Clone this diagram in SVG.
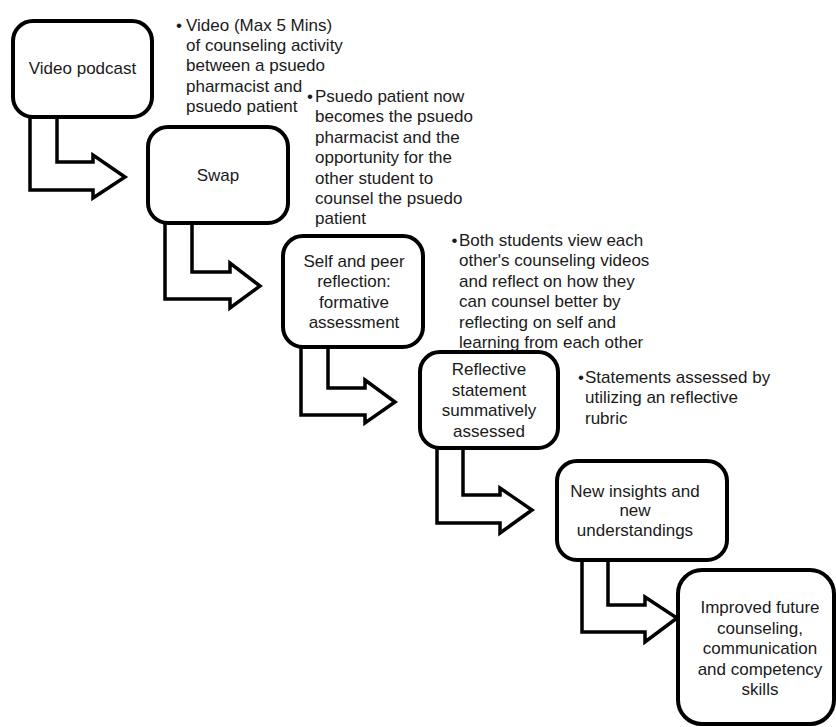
<svg xmlns="http://www.w3.org/2000/svg" width="836" height="727" viewBox="0 0 836 727">
<style>
.box{fill:#fff;stroke:#000;stroke-width:4}
.arr{fill:#fff;stroke:#000;stroke-width:3.5;stroke-linejoin:miter}
text{font-family:"Liberation Sans",Arial,sans-serif;font-size:17px;fill:#1a1a1a}
.c{text-anchor:middle}
</style>
<rect width="836" height="727" fill="#fff"/>
<g id="connectors">
<path class="arr" d="M30,117 L30,190 L93,190 L93,198 L125,177 L93,155 L93,162 L57,162 L57,117"/>
<path class="arr" d="M165,223 L165,299 L230,299 L230,308 L260,286 L230,263 L230,272 L192,272 L192,223"/>
<path class="arr" d="M301,347 L301,415 L365,415 L365,423 L395,402 L365,380 L365,388 L328,388 L328,347"/>
<path class="arr" d="M437,448 L437,523 L500,523 L500,533 L532,510 L500,488 L500,495 L463,495 L463,448"/>
<path class="arr" d="M582,560 L582,632 L645,632 L645,642 L677,618 L645,597 L645,605 L608,605 L608,560"/>
</g>
<g id="n1">
<rect class="box" x="13" y="21" width="139" height="96" rx="20"/>
<text class="c" x="82.5" y="74">Video podcast</text>
</g>
<g id="n2">
<rect class="box" x="148" y="127" width="140" height="96" rx="20"/>
<text class="c" x="218" y="181">Swap</text>
</g>
<g id="n3">
<rect class="box" x="283" y="236" width="140" height="111" rx="20"/>
<text class="c" x="354" y="266.5">Self and peer</text>
<text class="c" x="354" y="287">reflection:</text>
<text class="c" x="354" y="307.5">formative</text>
<text class="c" x="354" y="328">assessment</text>
</g>
<g id="n4">
<rect class="box" x="420" y="352" width="138" height="96" rx="20"/>
<text class="c" x="489" y="375">Reflective</text>
<text class="c" x="489" y="395.5">statement</text>
<text class="c" x="489" y="416">summatively</text>
<text class="c" x="489" y="436.5">assessed</text>
</g>
<g id="n5">
<rect class="box" x="557" y="461" width="170" height="99" rx="20"/>
<text class="c" x="635" y="496.5">New insights and</text>
<text class="c" x="635" y="516">new</text>
<text class="c" x="635" y="535.5">understandings</text>
</g>
<g id="n6">
<rect class="box" x="678" y="570" width="156" height="154" rx="24"/>
<text class="c" x="760" y="613">Improved future</text>
<text class="c" x="760" y="633.5">counseling,</text>
<text class="c" x="760" y="654">communication</text>
<text class="c" x="760" y="674.5">and competency</text>
<text class="c" x="760" y="695">skills</text>
</g>
<g id="t1">
<text x="176" y="31">•</text>
<text x="186" y="31">Video (Max 5 Mins)</text>
<text x="186" y="51.2">of counseling activity</text>
<text x="186" y="71.4">between a psuedo</text>
<text x="186" y="91.6">pharmacist and</text>
<text x="186" y="111.8">psuedo patient</text>
</g>
<g id="t2">
<text x="307" y="102">•</text>
<text x="315" y="102">Psuedo patient now</text>
<text x="315" y="122.4">becomes the psuedo</text>
<text x="315" y="142.8">pharmacist and the</text>
<text x="315" y="163.2">opportunity for the</text>
<text x="315" y="183.6">other student to</text>
<text x="315" y="204">counsel the psuedo</text>
<text x="315" y="224.4">patient</text>
</g>
<g id="t3">
<text x="451.5" y="246">•</text>
<text x="459" y="246">Both students view each</text>
<text x="459" y="266.4">other's counseling videos</text>
<text x="459" y="286.8">and reflect on how they</text>
<text x="459" y="307.2">can counsel better by</text>
<text x="459" y="327.6">reflecting on self and</text>
<text x="459" y="348">learning from each other</text>
</g>
<g id="t4">
<text x="578" y="382.5">•</text>
<text x="585" y="382.5">Statements assessed by</text>
<text x="585" y="403">utilizing an reflective</text>
<text x="585" y="423.5">rubric</text>
</g>
</svg>
